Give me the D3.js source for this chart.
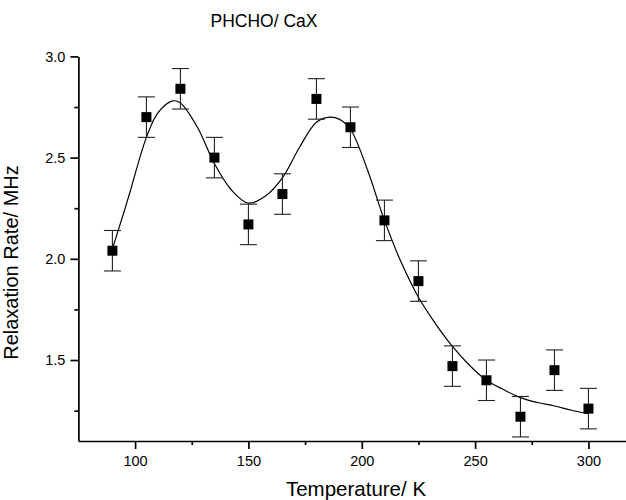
<!DOCTYPE html>
<html>
<head>
<meta charset="utf-8">
<script src="https://cdn.jsdelivr.net/npm/d3@7"></script>
<style>
  html, body { margin: 0; padding: 0; background: #fff; }
  svg { display: block; }
  text { font-family: "Liberation Sans", Arial, Helvetica, sans-serif; fill: #000; }
</style>
</head>
<body>
<svg id="chart" width="626" height="500"></svg>
<script>
// Measured data points (Temperature / K, Relaxation rate / MHz)
const temperatures = [90, 105, 120, 135, 150, 165, 180, 195, 210, 225, 240, 255, 270, 285, 300];
const rates        = [2.04, 2.70, 2.84, 2.50, 2.17, 2.32, 2.79, 2.65, 2.19, 1.89, 1.47, 1.40, 1.22, 1.45, 1.26];
const errors       = [0.10, 0.10, 0.10, 0.10, 0.10, 0.10, 0.10, 0.10, 0.10, 0.10, 0.10, 0.10, 0.10, 0.10, 0.10];

// Fitted curve
const fitT = [90, 94.8, 97.5, 105, 110, 116.6, 120, 127.5, 135, 142.5, 150, 157.5, 165, 172.5, 180, 186, 190, 195, 202.5, 210, 217.5, 225, 232.5, 240, 247.5, 255, 262.5, 270, 277.5, 285, 292.5, 300];
const fitV = [2.05, 2.22, 2.32, 2.60, 2.72, 2.78, 2.77, 2.65, 2.47, 2.34, 2.275, 2.31, 2.40, 2.55, 2.675, 2.70, 2.69, 2.64, 2.44, 2.19, 1.98, 1.81, 1.68, 1.567, 1.474, 1.40, 1.354, 1.314, 1.29, 1.273, 1.252, 1.235];

const xMajorTicks = [100, 150, 200, 250, 300];
const xMinorTicks = [125, 175, 225, 275];
const yMajorTicks = [1.5, 2.0, 2.5, 3.0];
const yMinorTicks = [1.25, 1.75, 2.25, 2.75];

const titleText = "PHCHO/ CaX";
const xLabel = "Temperature/ K";
const yLabel = "Relaxation Rate/ MHz";

const svg = d3.select("#chart");

const x = d3.scaleLinear().domain([75, 317]).range([78.4, 627]);
const y = d3.scaleLinear().domain([1.1, 3.0]).range([441, 56.4]);

// X axis
const gx = svg.append("g").attr("transform", `translate(0,${y(1.1)})`);
gx.call(d3.axisBottom(x).tickValues(xMajorTicks).tickSize(8).tickSizeOuter(0).tickPadding(7).tickFormat(d3.format("d")));
gx.append("g").call(d3.axisBottom(x).tickValues(xMinorTicks).tickSize(4).tickSizeOuter(0).tickFormat(""))
  .select(".domain").remove();
gx.selectAll("text").style("font-size", "14.5px").style("font-family", "'Liberation Sans', Arial, sans-serif").attr("fill", "#000");

// Y axis
const gy = svg.append("g").attr("transform", `translate(${x(75)},0)`);
gy.call(d3.axisLeft(y).tickValues(yMajorTicks).tickSize(8).tickSizeOuter(0).tickPadding(5).tickFormat(d3.format(".1f")));
gy.append("g").call(d3.axisLeft(y).tickValues(yMinorTicks).tickSize(4).tickSizeOuter(0).tickFormat(""))
  .select(".domain").remove();
gy.selectAll("text").style("font-size", "14.5px").style("font-family", "'Liberation Sans', Arial, sans-serif").attr("fill", "#000");

svg.selectAll(".domain, .tick line").attr("stroke", "#000").attr("stroke-width", 1.7);

// Fitted curve
const fitData = fitT.map((t, i) => ({t, v: fitV[i]}));
svg.append("path")
  .datum(fitData)
  .attr("fill", "none")
  .attr("stroke", "#000")
  .attr("stroke-width", 1.2)
  .attr("d", d3.line().x(d => x(d.t)).y(d => y(d.v)).curve(d3.curveCatmullRom.alpha(0.5)));

// Data
const data = temperatures.map((t, i) => ({t, v: rates[i], e: errors[i]}));
const capHalf = 8.5;
const eb = svg.append("g").attr("stroke", "#222").attr("stroke-width", 1.1);
eb.selectAll("line.v").data(data).join("line").attr("class", "v")
  .attr("x1", d => x(d.t)).attr("x2", d => x(d.t))
  .attr("y1", d => y(d.v - d.e)).attr("y2", d => y(d.v + d.e));
eb.selectAll("line.top").data(data).join("line").attr("class", "top")
  .attr("x1", d => x(d.t) - capHalf).attr("x2", d => x(d.t) + capHalf)
  .attr("y1", d => y(d.v + d.e)).attr("y2", d => y(d.v + d.e));
eb.selectAll("line.bot").data(data).join("line").attr("class", "bot")
  .attr("x1", d => x(d.t) - capHalf).attr("x2", d => x(d.t) + capHalf)
  .attr("y1", d => y(d.v - d.e)).attr("y2", d => y(d.v - d.e));

const sq = 10;
svg.append("g").selectAll("rect").data(data).join("rect")
  .attr("x", d => x(d.t) - sq / 2).attr("y", d => y(d.v) - sq / 2)
  .attr("width", sq).attr("height", sq).attr("fill", "#000");

// Texts
svg.append("text").attr("x", 264).attr("y", 27).attr("text-anchor", "middle")
  .style("font-size", "17.5px").text(titleText);
svg.append("text").attr("x", 356).attr("y", 496).attr("text-anchor", "middle")
  .style("font-size", "20.5px").text(xLabel);
svg.append("text").attr("transform", "translate(18,262.5) rotate(-90)").attr("text-anchor", "middle")
  .style("font-size", "20px").text(yLabel);
</script>
</body>
</html>
